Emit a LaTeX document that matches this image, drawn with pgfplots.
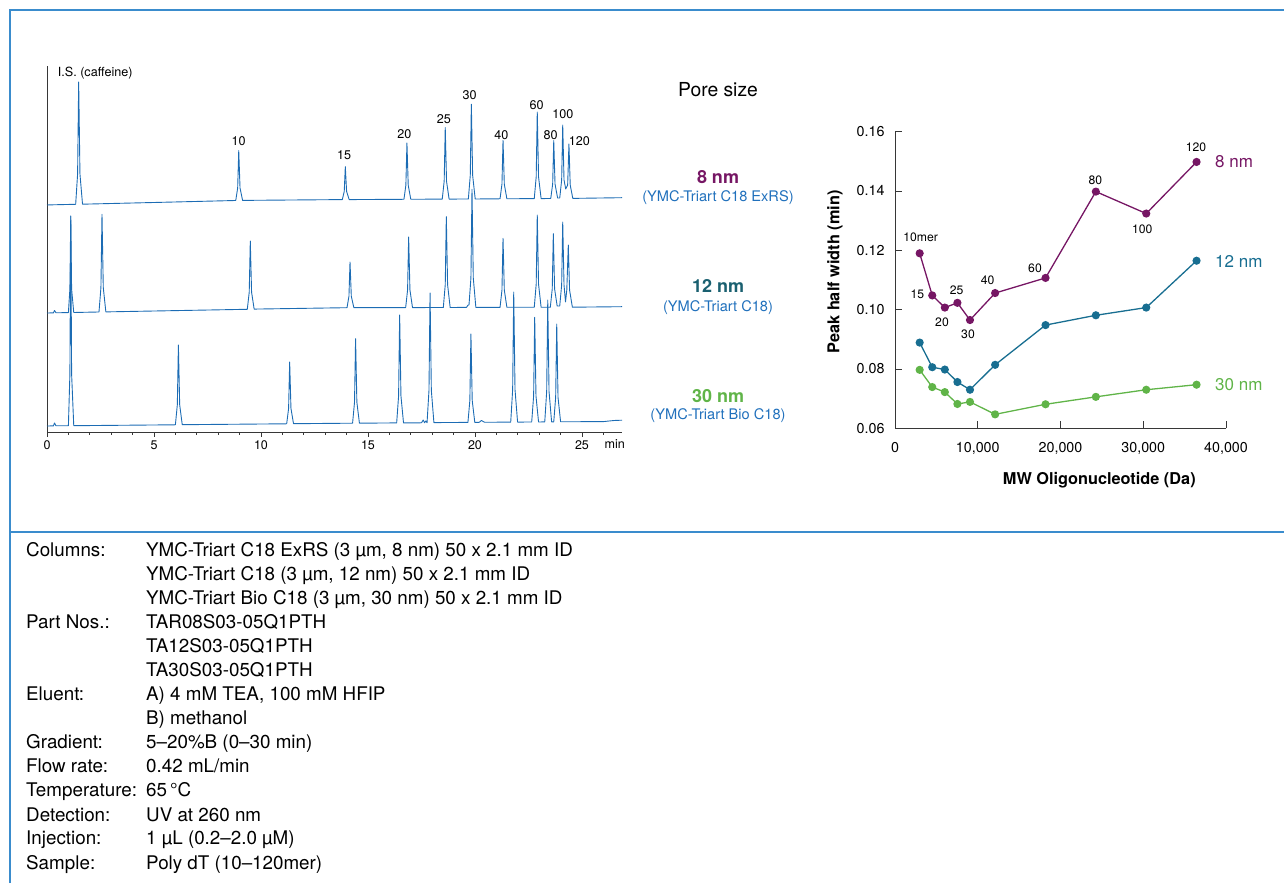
\documentclass[border=0pt]{standalone}
\usepackage{fontspec}
\setmainfont{TeX Gyre Heros}
\usepackage{pgfplots}
\pgfplotsset{compat=1.18}
\pgfplotsset{/pgf/number format/assume math mode=true}
\definecolor{trace}{RGB}{28,108,180}
\definecolor{framec}{RGB}{58,140,205}
\definecolor{pur}{RGB}{118,22,100}
\definecolor{tealc}{RGB}{24,110,145}
\definecolor{tealdark}{RGB}{26,96,112}
\definecolor{grn}{RGB}{96,180,72}
\definecolor{sub}{RGB}{32,112,188}
\definecolor{axg}{RGB}{55,55,55}
\newcommand\fs[1]{\fontsize{#1}{#1}\selectfont}
\begin{document}
\begin{tikzpicture}[x=1pt,y=1pt]
\path[use as bounding box] (0,0) rectangle (1284,883);
\draw[framec, line width=2pt] (9.5,0) -- (9.5,873) -- (1284,873);
\draw[framec, line width=2pt] (9.5,351) -- (1284,351);

% ---------------- chromatogram ----------------
\begin{axis}[at={(47pt,451pt)}, anchor=south west, scale only axis,
  width=575pt, height=366pt, xmin=0, xmax=26.87, ymin=0, ymax=366,
  axis x line=bottom, axis y line=left,
  axis line style={-, axg, line width=0.9pt},
  ytick=\empty, xtick={0,5,10,15,20,25},
  minor xtick={1,2,3,4,6,7,8,9,11,12,13,14,16,17,18,19,21,22,23,24,26},
  tick align=outside, major tick length=5pt, minor tick length=3pt,
  tick style={axg, line width=0.7pt},
  xticklabel style={font=\fs{12.5}, text=black},
  clip=false]
\addplot[trace, line width=0.9pt, line join=round] coordinates {
(0,227)(0.3,227.2)(1.34,227.7)(1.43,258)(1.48,350)(1.54,258)(1.66,227.8)(5,229.5)
(8.82,231.5)(8.91,244)(8.96,281.3)(9.02,244)(9.14,231.6)
(13.80,232.4)(13.89,240.6)(13.94,265.3)(14.00,240.6)(14.12,232.4)
(16.68,232.7)(16.77,246.8)(16.82,289)(16.88,246.8)(17.00,232.7)
(18.47,232.9)(18.56,250.8)(18.61,304.3)(18.67,250.8)(18.79,232.9)
(19.69,233)(19.78,256.7)(19.83,327.7)(19.89,256.7)(20.01,233)
(21.17,233.2)(21.26,247.8)(21.31,291.7)(21.37,247.8)(21.49,233.2)
(22.77,233.4)(22.86,255.1)(22.91,320)(22.97,255.1)(23.09,233.4)
(23.54,233.5)(23.63,248)(23.68,291.3)(23.74,248)(23.86,234)
(23.96,234)(24.05,252)(24.10,307)(24.16,252)(24.24,243)
(24.33,247)(24.39,288)(24.45,247)(24.57,233.6)(26.87,234.3)};
\addplot[trace, line width=0.9pt, line join=round] coordinates {
(0,119)(0.3,119.1)(0.35,121.5)(0.42,119.2)(1.0,119.4)(1.07,143)(1.11,216)(1.15,143)(1.25,119.5)
(2.43,120)(2.52,144.4)(2.57,217.7)(2.63,144.4)(2.75,120.1)
(9.36,122.7)(9.45,139.8)(9.50,191)(9.56,139.8)(9.68,122.9)
(14.02,124.3)(14.11,135.7)(14.16,170)(14.22,135.7)(14.34,124.3)
(16.76,124.4)(16.85,142)(16.90,195)(16.96,142)(17.08,124.4)
(18.52,124.5)(18.61,147.2)(18.66,215.3)(18.72,147.2)(18.84,124.5)
(19.60,124.6)(19.68,127)(19.72,127)(19.81,154.1)(19.86,242.7)(19.92,154.1)(20.04,124.6)
(21.17,124.6)(21.26,141.9)(21.31,193.7)(21.37,141.9)(21.49,124.7)
(22.77,124.7)(22.86,147.7)(22.91,217)(22.97,147.7)(23.09,124.7)
(23.52,124.7)(23.61,143.1)(23.66,198.3)(23.72,143.1)(23.84,126)
(23.96,126)(24.05,147)(24.10,210)(24.16,147)(24.23,130)
(24.29,142)(24.36,187)(24.42,142)(24.55,124.8)(26.87,125.3)};
\addplot[trace, line width=0.9pt, line join=round] coordinates {
(0,6)(0.3,6.1)(0.35,9)(0.42,6.2)(1.0,6.2)(1.07,58)(1.11,216)(1.15,58)(1.25,6.3)
(6.00,7.2)(6.09,27.2)(6.14,87)(6.20,27.2)(6.32,7.3)
(11.20,8.2)(11.29,23.7)(11.34,70)(11.40,23.7)(11.52,8.3)
(14.28,8.8)(14.37,29.8)(14.42,93.3)(14.48,29.8)(14.60,8.8)
(16.34,9.1)(16.43,36.1)(16.48,117)(16.54,36.1)(16.66,9.1)
(17.5,9.2)(17.58,12)(17.64,9.3)(17.70,11)
(17.76,9.3)(17.85,41.7)(17.90,139)(17.96,41.7)(18.08,9.4)
(19.67,9.6)(19.76,31.6)(19.81,98)(19.87,31.6)(19.99,9.6)
(20.2,9.7)(20.3,11.5)(20.45,9.7)
(21.67,9.9)(21.76,42.4)(21.81,140)(21.87,42.4)(21.99,9.9)
(22.65,10)(22.74,36)(22.79,114.7)(22.85,36)(22.97,10)
(23.26,10.1)(23.35,40.6)(23.40,132)(23.46,40.6)(23.58,10.1)
(23.68,10.1)(23.77,34.6)(23.82,108)(23.88,34.6)(24.00,10.2)
(26.0,10.4)(26.5,11.5)(26.87,11.8)};
\begin{scope}[every node/.style={font=\fs{12.6}, inner sep=0pt, anchor=base}]
\node[anchor=base west] at (axis cs:0.5,355) {I.S. (caffeine)};
\node at (axis cs:8.96,286) {10};
\node at (axis cs:13.88,272.5) {15};
\node at (axis cs:16.70,293.5) {20};
\node at (axis cs:18.55,308.5) {25};
\node at (axis cs:19.75,332) {30};
\node at (axis cs:21.23,292.5) {40};
\node at (axis cs:22.88,322) {60};
\node at (axis cs:23.54,292.2) {80};
\node at (axis cs:24.11,313) {100};
\node at (axis cs:24.88,286) {120};
\node[anchor=center] at (axis cs:26.53,-12) {min};
\end{scope}
\end{axis}

% ---------------- middle labels ----------------
\node[font=\fs{19.3}] at (718,793) {Pore size};
\node[font=\fs{18}\bfseries, text=pur] at (718,706) {8 nm};
\node[font=\fs{14.6}, text=sub] at (718,685.7) {(YMC-Triart C18 ExRS)};
\node[font=\fs{18}\bfseries, text=tealdark] at (718,597) {12 nm};
\node[font=\fs{14.6}, text=sub] at (718,575.7) {(YMC-Triart C18)};
\node[font=\fs{18}\bfseries, text=grn] at (718,487) {30 nm};
\node[font=\fs{14.6}, text=sub] at (718,467) {(YMC-Triart Bio C18)};

% ---------------- peak half width ----------------
\begin{axis}[at={(895pt,454.7pt)}, anchor=south west, scale only axis,
  width=331pt, height=296.6pt, xmin=0, xmax=40000, ymin=0.06, ymax=0.16,
  axis x line=bottom, axis y line=left,
  axis line style={-, axg, line width=1pt},
  xtick={0,10000,20000,30000,40000},
  ytick={0.06,0.08,0.10,0.12,0.14,0.16},
  scaled x ticks=false, scaled y ticks=false,
  xticklabel style={/pgf/number format/1000 sep={,}, yshift=-11pt},
  yticklabel style={/pgf/number format/fixed, /pgf/number format/fixed zerofill,
    /pgf/number format/precision=2, xshift=-7pt},
  ticklabel style={font=\fs{14.3}},
  tick align=inside, major tick length=7pt,
  tick style={axg, line width=0.9pt},
  clip=false]
\addplot[pur, line width=1.3pt, mark=*, mark size=3.4pt] coordinates {
(2980,0.1190)(4500,0.1048)(6020,0.1007)(7540,0.1023)(9060,0.0965)
(12100,0.1056)(18190,0.1107)(24270,0.1398)(30360,0.1324)(36440,0.1498)};
\addplot[tealc, line width=1.3pt, mark=*, mark size=3.4pt] coordinates {
(2980,0.0889)(4500,0.0806)(6020,0.0798)(7540,0.0756)(9060,0.0730)
(12100,0.0814)(18190,0.0948)(24270,0.0981)(30360,0.1007)(36440,0.1165)};
\addplot[grn, line width=1.3pt, mark=*, mark size=3.4pt] coordinates {
(2980,0.0797)(4500,0.0739)(6020,0.0722)(7540,0.0682)(9060,0.0689)
(12100,0.0647)(18190,0.0681)(24270,0.0706)(30360,0.0730)(36440,0.0747)};
\begin{scope}[every node/.style={font=\fs{12.2}, inner sep=0pt}]
\node at (axis cs:3106,0.1243) {10mer};
\node at (axis cs:2695,0.1052) {15};
\node at (axis cs:7456,0.1066) {25};
\node at (axis cs:5680,0.0959) {20};
\node at (axis cs:8822,0.0917) {30};
\node at (axis cs:11203,0.1100) {40};
\node at (axis cs:16919,0.1141) {60};
\node at (axis cs:24206,0.1437) {80};
\node at (axis cs:29886,0.1271) {100};
\node at (axis cs:36376,0.1547) {120};
\end{scope}
\node[font=\fs{17}, text=pur, anchor=west, inner sep=0pt] at (axis cs:38672,0.1499) {8 nm};
\node[font=\fs{17}, text=tealc, anchor=west, inner sep=0pt] at (axis cs:38672,0.1162) {12 nm};
\node[font=\fs{17}, text=grn, anchor=west, inner sep=0pt] at (axis cs:38672,0.0746) {30 nm};
\end{axis}
\node[font=\fs{16.3}\bfseries] at (1099.3,402.3) {MW Oligonucleotide (Da)};
\node[font=\fs{16.3}\bfseries, rotate=90] at (835,611) {Peak half width (min)};

% ---------------- conditions ----------------
\begin{scope}[every node/.style={font=\fs{18.8}, inner sep=0pt, anchor=base west}]
\node at (26,326) {Columns:};
\node at (146,326) {YMC-Triart C18 ExRS (3 µm, 8 nm) 50 x 2.1 mm ID};
\node at (146,302) {YMC-Triart C18 (3 µm, 12 nm) 50 x 2.1 mm ID};
\node at (146,278) {YMC-Triart Bio C18 (3 µm, 30 nm) 50 x 2.1 mm ID};
\node at (26,254) {Part Nos.:};
\node at (146,254) {TAR08S03-05Q1PTH};
\node at (146,230) {TA12S03-05Q1PTH};
\node at (146,206) {TA30S03-05Q1PTH};
\node at (26,182) {Eluent:};
\node at (146,182) {A) 4 mM TEA, 100 mM HFIP};
\node at (146,158) {B) methanol};
\node at (26,134) {Gradient:};
\node at (146,134) {5–20\%B (0–30 min)};
\node at (26,110) {Flow rate:};
\node at (146,110) {0.42 mL/min};
\node at (26,86) {Temperature:};
\node at (146,86) {65\,°C};
\node at (26,62) {Detection:};
\node at (146,62) {UV at 260 nm};
\node at (26,38) {Injection:};
\node at (146,38) {1 µL (0.2–2.0 µM)};
\node at (26,14) {Sample:};
\node at (146,14) {Poly dT (10–120mer)};
\end{scope}
\end{tikzpicture}
\end{document}
